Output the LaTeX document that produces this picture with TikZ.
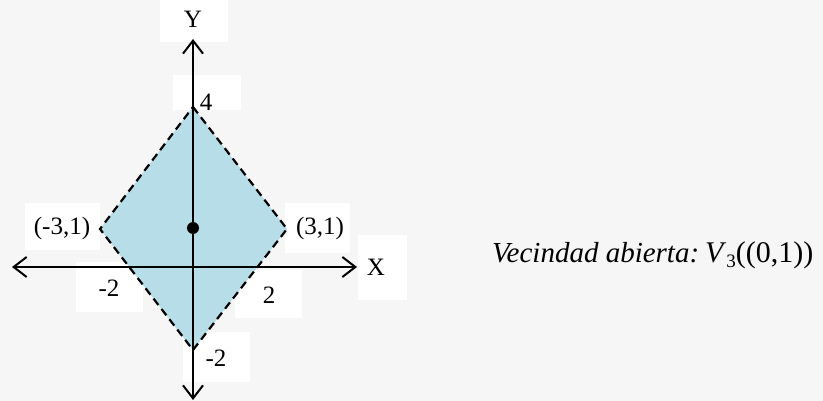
\documentclass[tikz,border=0pt]{standalone}
\usepackage{fontspec}
\setmainfont{Liberation Serif}
\usetikzlibrary{arrows.meta}
\begin{document}
\begin{tikzpicture}[x=1pt,y=-1pt,
  axis/.style={line width=2pt,{Straight Barb[length=13pt,width=20pt,line width=2pt]}-{Straight Barb[length=13pt,width=20pt,line width=2pt]}},
  lbl/.style={inner sep=0pt,font=\fontsize{25}{30}\selectfont},
  wbox/.style={fill=white,draw=none},
  border/.style={line width=2.2pt,dash pattern=on 8pt off 5pt,line join=miter}]
\fill[gray!7] (0,0) rectangle (823,401);
\useasboundingbox (0,0) rectangle (823,401);
% white label backgrounds
\fill[wbox] (160,0) rectangle (228,42);
\fill[wbox] (173,75) rectangle (241,110);
\fill[wbox] (25,203) rectangle (100,250);
\fill[wbox] (285,203) rectangle (350,253);
\fill[wbox] (358,235) rectangle (407,300);
\fill[wbox] (76,262) rectangle (143,312);
\fill[wbox] (235,270) rectangle (302,318);
\fill[wbox] (183,332) rectangle (250,382);
% coordinates
\coordinate (T) at (193,107);
\coordinate (R) at (287,229);
\coordinate (B) at (193,350);
\coordinate (L) at (100,229);
\coordinate (xl) at (12,267);
\coordinate (xr) at (357,267);
\coordinate (yt) at (193,39);
\coordinate (yb) at (193,400);
\fill[fill={rgb,255:red,183;green,222;blue,232}] (T) -- (R) -- (B) -- (L) -- cycle;
\draw[axis] (xl) -- (xr);
\draw[axis] (yb) -- (yt);
\draw[border] (T) -- (R) -- (B) -- (L) -- cycle;
\node[circle,fill=black,inner sep=0pt,minimum size=12pt] (P) at (193,228) {};
% labels
\node[lbl] (ly) at (193,19) {Y};
\node[lbl] (l4) at (206,102) {4};
\node[lbl] (lm31) at (62,228) {(-3,1)};
\node[lbl] (l31) at (320,228) {(3,1)};
\node[lbl] (lx) at (376,267) {X};
\node[lbl] (lm2x) at (109,288) {-2};
\node[lbl] (l2x) at (269,295) {2};
\node[lbl] (lm2y) at (216,358) {-2};
\node[inner sep=0pt,anchor=base west,font=\fontsize{29}{34}\selectfont] (vt) at (492,262) {\textit{Vecindad abierta:}\hspace{6pt}{\fontsize{30}{34}\selectfont\textit{V}\raisebox{-0.4ex}{\fontsize{19}{19}\selectfont 3}((0,1))}};
\end{tikzpicture}
\end{document}
